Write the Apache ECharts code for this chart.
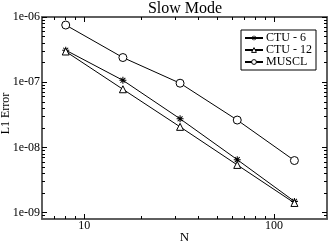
<!DOCTYPE html>
<html><head><meta charset="utf-8">
<script src="https://cdn.jsdelivr.net/npm/echarts@6/dist/echarts.min.js"></script>
<style>html,body{margin:0;padding:0;background:#fff}#c{width:331px;height:242px}</style>
</head><body><div id="c"></div>
<script>
const N = [8, 16, 32, 64, 128];
const ctu6 = [3.1e-7, 1.07e-7, 2.75e-8, 6.5e-9, 1.49e-9];
const ctu12 = [2.96e-7, 7.8e-8, 2.07e-8, 5.4e-9, 1.41e-9];
const muscl = [7.53e-7, 2.39e-7, 9.66e-8, 2.63e-8, 6.3e-9];
const xMajorTicks = [10, 100];
const xMinorTicks = [7, 8, 9, 20, 30, 40, 50, 60, 70, 80, 90];
const yMajorTicks = [1e-9, 1e-8, 1e-7, 1e-6];
const yMinorTicks = [];
[1e-9, 1e-8, 1e-7].forEach(d => { for (let k = 2; k <= 9; k++) yMinorTicks.push(+(k * d).toPrecision(3)); });
yMinorTicks.push(9e-10);

const FONT = 'Liberation Serif';
const X_MIN = 6, X_MAX = 190, Y_MIN = 8e-10, Y_MAX = 1e-6;
const axisLine = { show: true, lineStyle: { color: '#555', width: 1.5 } };

function xAx(pos, vals, len, labels) {
  return {
    type: 'log', position: pos, min: X_MIN, max: X_MAX, logBase: 10,
    axisLine: axisLine, splitLine: { show: false },
    axisTick: { show: true, inside: true, length: len, customValues: vals, lineStyle: { color: '#000', width: 1 } },
    axisLabel: labels ? { show: true, customValues: vals, margin: 1, fontFamily: FONT, fontSize: 12, color: '#000', formatter: v => String(Math.round(v)) } : { show: false },
    name: labels ? 'N' : '', nameLocation: 'middle', nameGap: 12, nameMoveOverlap: false,
    nameTextStyle: { fontFamily: FONT, fontSize: 13, color: '#000' }
  };
}
function yAx(pos, vals, len, labels) {
  return {
    type: 'log', position: pos, min: Y_MIN, max: Y_MAX, logBase: 10,
    axisLine: axisLine, splitLine: { show: false },
    axisTick: { show: true, inside: true, length: len, customValues: vals, lineStyle: { color: '#000', width: 1 } },
    axisLabel: labels ? { show: true, customValues: vals, margin: 2, fontFamily: FONT, fontSize: 12, color: '#000',
      formatter: v => { const e = Math.round(Math.log10(v)); return '1e-' + String(-e).padStart(2, '0'); } } : { show: false },
    name: labels ? '\u00a0\u00a0\u00a0L1 Error' : '', nameLocation: 'middle', nameGap: 30, nameMoveOverlap: false,
    nameTextStyle: { fontFamily: FONT, fontSize: 12, color: '#000' }
  };
}
const star = 'path://M-0.15,-1L0.15,-1L0.15,1L-0.15,1Z M-1,-0.15L1,-0.15L1,0.15L-1,0.15Z M-0.8,-0.6L-0.6,-0.8L0.8,0.6L0.6,0.8Z M0.6,-0.8L0.8,-0.6L-0.6,0.8L-0.8,0.6Z';
function ser(name, ys, symbol, size) {
  return {
    name: name, type: 'line', xAxisIndex: 0, yAxisIndex: 0,
    data: N.map((n, i) => [n, ys[i]]),
    symbol: symbol, symbolSize: size, showAllSymbol: true,
    lineStyle: { color: '#000', width: 1 },
    itemStyle: symbol === star ? { color: '#000', borderWidth: 0 } : { color: '#fff', borderColor: '#000', borderWidth: 1 },
    emphasis: { disabled: true }, animation: false
  };
}
const openStyle = { color: '#fff', borderColor: '#000', borderWidth: 1 };
const chart = echarts.init(document.getElementById('c'), null, { renderer: 'canvas' });
chart.setOption({
  animation: false,
  backgroundColor: '#fff',
  title: { text: 'Slow Mode', left: 180, textAlign: 'center', top: -4,
    textStyle: { fontFamily: FONT, fontSize: 16, fontWeight: 'normal', color: '#000' } },
  grid: { left: 42, right: 4, top: 17, bottom: 23, containLabel: false, outerBoundsMode: 'none' },
  legend: {
    orient: 'vertical', right: 15, top: 30, itemWidth: 18, itemHeight: 6, itemGap: 0,
    borderColor: '#000', borderWidth: 1, padding: [2, 4, 2, 3], backgroundColor: '#fff',
    textStyle: { fontFamily: FONT, fontSize: 12, color: '#000', padding: [0, 0, 0, -2] },
    data: [{ name: 'CTU - 6' }, { name: 'CTU - 12', itemStyle: openStyle }, { name: 'MUSCL', itemStyle: openStyle }]
  },
  xAxis: [xAx('bottom', xMajorTicks, 5, true), xAx('bottom', xMinorTicks, 3, false), xAx('top', xMajorTicks, 5, false), xAx('top', xMinorTicks, 3, false)],
  yAxis: [yAx('left', yMajorTicks, 5, true), yAx('left', yMinorTicks, 3, false), yAx('right', yMajorTicks, 5, false), yAx('right', yMinorTicks, 3, false)],
  series: [ser('CTU - 6', ctu6, star, 7), ser('CTU - 12', ctu12, 'triangle', 7), ser('MUSCL', muscl, 'circle', 8)]
});
</script></body></html>
